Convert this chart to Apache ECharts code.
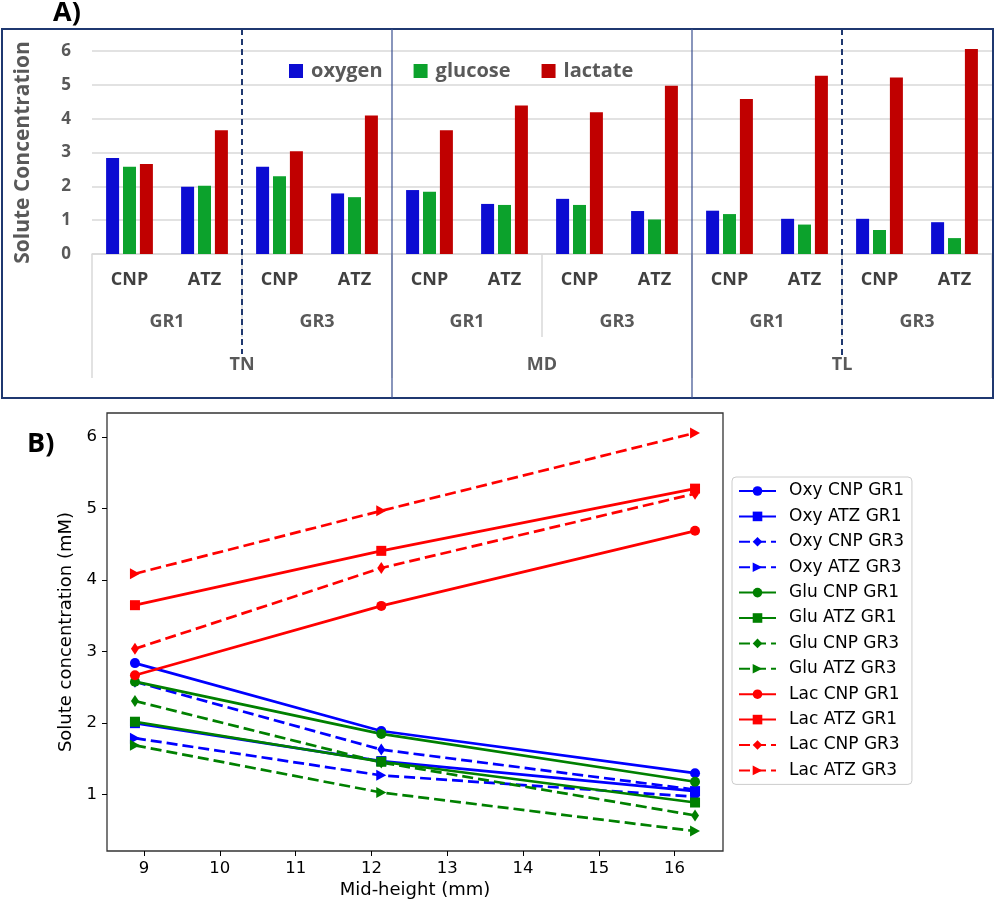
<!DOCTYPE html>
<html>
<head>
<meta charset="utf-8">
<script src="https://cdn.jsdelivr.net/npm/echarts@6/dist/echarts.min.js"></script>
<style>
html,body{margin:0;padding:0;background:#fff;}
#chart{width:996px;height:904px;}
</style>
</head>
<body>
<div id="chart"></div>
<script>
// ---------- Panel A data ----------
const barCategories = ['CNP','ATZ','CNP','ATZ','CNP','ATZ','CNP','ATZ','CNP','ATZ','CNP','ATZ'];
const groupLabels = ['GR1','GR3','GR1','GR3','GR1','GR3'];
const regionLabels = ['TN','MD','TL'];
const barOxygen  = [2.84, 1.99, 2.58, 1.79, 1.89, 1.48, 1.63, 1.27, 1.28, 1.04, 1.04, 0.94];
const barGlucose = [2.58, 2.02, 2.30, 1.68, 1.84, 1.45, 1.45, 1.02, 1.18, 0.87, 0.71, 0.47];
const barLactate = [2.66, 3.66, 3.04, 4.09, 3.66, 4.39, 4.19, 4.97, 4.58, 5.27, 5.22, 6.06];
const yTicksA = [0, 1, 2, 3, 4, 5, 6];

// ---------- Panel B data ----------
const midHeight = [8.88, 12.13, 16.27];
const lineNames = ['Oxy CNP GR1','Oxy ATZ GR1','Oxy CNP GR3','Oxy ATZ GR3',
                   'Glu CNP GR1','Glu ATZ GR1','Glu CNP GR3','Glu ATZ GR3',
                   'Lac CNP GR1','Lac ATZ GR1','Lac CNP GR3','Lac ATZ GR3'];
const oxyCnpGr1 = [2.84, 1.89, 1.30];
const oxyAtzGr1 = [2.00, 1.47, 1.05];
const oxyCnpGr3 = [2.58, 1.63, 1.07];
const oxyAtzGr3 = [1.79, 1.27, 0.97];
const gluCnpGr1 = [2.58, 1.85, 1.18];
const gluAtzGr1 = [2.02, 1.46, 0.89];
const gluCnpGr3 = [2.31, 1.45, 0.71];
const gluAtzGr3 = [1.69, 1.03, 0.49];
const lacCnpGr1 = [2.67, 3.64, 4.69];
const lacAtzGr1 = [3.65, 4.41, 5.28];
const lacCnpGr3 = [3.04, 4.17, 5.21];
const lacAtzGr3 = [4.09, 4.97, 6.06];
const xTicksB = [9, 10, 11, 12, 13, 14, 15, 16];
const yTicksB = [1, 2, 3, 4, 5, 6];

const lineValues = [oxyCnpGr1, oxyAtzGr1, oxyCnpGr3, oxyAtzGr3,
                    gluCnpGr1, gluAtzGr1, gluCnpGr3, gluAtzGr3,
                    lacCnpGr1, lacAtzGr1, lacCnpGr3, lacAtzGr3];

// styles
const lineColors = ['#0000FF','#0000FF','#0000FF','#0000FF','#008000','#008000','#008000','#008000','#FF0000','#FF0000','#FF0000','#FF0000'];
const TRI = 'path://M0,0L10,5L0,10Z';
const markerDefs = [
  {symbol:'circle', size:10, dash:false},
  {symbol:'rect', size:10, dash:false},
  {symbol:'diamond', size:[8,12], dash:true},
  {symbol:TRI, size:[10,11], dash:true}
];

// matplotlib-like 5% margins computed from data
const allY = lineValues.flat();
const yMinD = Math.min(...allY), yMaxD = Math.max(...allY);
const xMinD = Math.min(...midHeight), xMaxD = Math.max(...midHeight);
const yPad = (yMaxD - yMinD) * 0.05, xPad = (xMaxD - xMinD) * 0.05;

const fontA = 'Open Sans';
const grayA = '#595959';
const fontB = 'DejaVu Sans';

const chart = echarts.init(document.getElementById('chart'), null, {renderer:'canvas'});

const lineSeries = lineNames.map((name, i) => {
  const m = markerDefs[i % 4];
  return {
    name: name,
    type: 'line',
    xAxisIndex: 3,
    yAxisIndex: 1,
    data: midHeight.map((x, k) => [x, lineValues[i][k]]),
    symbol: m.symbol,
    symbolSize: m.size,
    showAllSymbol: true,
    lineStyle: {color: lineColors[i], width: 2.7, type: m.dash ? [11, 5] : 'solid'},
    itemStyle: {color: lineColors[i]},
    emphasis: {disabled: true},
    z: 3
  };
});

const barCommon = {type: 'bar', xAxisIndex: 0, yAxisIndex: 0, barWidth: 13, barGap: '30%', clip: false};

const option = {
  animation: false,
  backgroundColor: '#fff',
  grid: [
    {left: 92, right: 4, top: 51, height: 203},
    {left: 107, right: 273, top: 413, bottom: 53, show: true, borderColor: '#333', borderWidth: 1.3, backgroundColor: 'transparent'}
  ],
  legend: [
    {
      data: ['oxygen','glucose','lactate'],
      left: 284, top: 56,
      itemWidth: 14, itemHeight: 14, itemGap: 31,
      icon: 'rect',
      textStyle: {fontFamily: fontA, fontWeight: 'bold', fontSize: 20, color: grayA, padding: [0,0,0,3]}
    },
    {
      data: lineNames,
      orient: 'vertical',
      left: 732, top: 477,
      padding: [5, 8, 5, 6],
      itemWidth: 37, itemHeight: 12, itemGap: 7.4,
      backgroundColor: '#fff',
      borderColor: '#CCCCCC', borderWidth: 1, borderRadius: 4,
      textStyle: {fontFamily: fontB, fontSize: 17, color: '#000', lineHeight: 18, padding: [0,0,0,8]}
    }
  ],
  xAxis: [
    {
      type: 'category', gridIndex: 0, data: barCategories,
      axisLine: {lineStyle: {color: '#D9D9D9', width: 1.5}},
      axisTick: {show: false},
      axisLabel: {interval: 0, margin: 17, fontFamily: fontA, fontWeight: 'bold', fontSize: 18, color: '#404040'}
    },
    {
      type: 'category', gridIndex: 0, data: groupLabels, position: 'bottom',
      axisLine: {show: false},
      axisTick: {show: true, length: 83, lineStyle: {color: '#D9D9D9', width: 1.5}},
      axisLabel: {interval: 0, margin: 59, fontFamily: fontA, fontWeight: 'bold', fontSize: 18, color: grayA}
    },
    {
      type: 'category', gridIndex: 0, data: regionLabels, position: 'bottom',
      axisLine: {show: false},
      axisTick: {show: true, length: 124, lineStyle: {color: '#D9D9D9', width: 1.5}},
      axisLabel: {interval: 0, margin: 102, fontFamily: fontA, fontWeight: 'bold', fontSize: 18, color: grayA}
    },
    {
      type: 'value', gridIndex: 1,
      min: +(xMinD - xPad).toFixed(3), max: +(xMaxD + xPad).toFixed(3),
      axisLine: {show: false},
      splitLine: {show: false},
      axisTick: {show: true, customValues: xTicksB, length: 5, lineStyle: {color: '#000', width: 1}},
      axisLabel: {customValues: xTicksB, margin: 9, fontFamily: fontB, fontSize: 16.5, color: '#000'},
      name: 'Mid-height (mm)', nameLocation: 'middle', nameGap: 30,
      nameTextStyle: {fontFamily: fontB, fontSize: 18, color: '#000'}
    }
  ],
  yAxis: [
    {
      type: 'value', gridIndex: 0, min: yTicksA[0], max: yTicksA[yTicksA.length - 1], interval: 1,
      axisLine: {show: false}, axisTick: {show: false},
      splitLine: {lineStyle: {color: '#D9D9D9', width: 1.5}},
      axisLabel: {margin: 21, fontFamily: fontA, fontWeight: 'bold', fontSize: 17, color: grayA},
      name: 'Solute Concentration', nameLocation: 'middle', nameGap: 58, nameMoveOverlap: false,
      nameTextStyle: {fontFamily: fontA, fontWeight: 'bold', fontSize: 21, color: grayA, padding: [0, 0, 0, 0]}
    },
    {
      type: 'value', gridIndex: 1,
      min: +(yMinD - yPad).toFixed(3), max: +(yMaxD + yPad).toFixed(3),
      axisLine: {show: false},
      splitLine: {show: false},
      axisTick: {show: true, customValues: yTicksB, length: 5, lineStyle: {color: '#000', width: 1}},
      axisLabel: {customValues: yTicksB, margin: 10, fontFamily: fontB, fontSize: 16.5, color: '#000'},
      name: 'Solute concentration (mM)', nameLocation: 'middle', nameGap: 30,
      nameTextStyle: {fontFamily: fontB, fontSize: 18, color: '#000'}
    }
  ],
  series: [
    Object.assign({name: 'oxygen', data: barOxygen, itemStyle: {color: '#0C0CD2'}}, barCommon),
    Object.assign({name: 'glucose', data: barGlucose, itemStyle: {color: '#0CA22C'}}, barCommon),
    Object.assign({name: 'lactate', data: barLactate, itemStyle: {color: '#C00000'}}, barCommon)
  ].concat(lineSeries)
};

chart.setOption(option);

// Decorative frame and section dividers for panel A, positioned from the category axis
const cx = i => chart.convertToPixel({xAxisIndex: 0}, i);
const bound = i => (cx(i) + cx(i + 1)) / 2;
const navy = '#1F3870';
const boxTop = 29, boxBottom = 398;
chart.setOption({
  graphic: [
    {type: 'rect', shape: {x: 2, y: boxTop, width: 991, height: boxBottom - boxTop}, style: {fill: 'none', stroke: navy, lineWidth: 2}, z: 10},
    {type: 'line', shape: {x1: bound(1), y1: boxTop, x2: bound(1), y2: 354}, style: {stroke: navy, lineWidth: 2, lineDash: [6, 4]}, z: 10},
    {type: 'line', shape: {x1: bound(3), y1: boxTop, x2: bound(3), y2: boxBottom}, style: {stroke: '#3A4F8F', lineWidth: 1.2}, z: 10},
    {type: 'line', shape: {x1: bound(7), y1: boxTop, x2: bound(7), y2: boxBottom}, style: {stroke: '#3A4F8F', lineWidth: 1.2}, z: 10},
    {type: 'line', shape: {x1: bound(9), y1: boxTop, x2: bound(9), y2: 358}, style: {stroke: navy, lineWidth: 2, lineDash: [6, 4]}, z: 10},
    {type: 'text', left: 53, top: 0, style: {text: 'A)', font: 'bold 27px "Open Sans"', fill: '#000'}, z: 10},
    {type: 'text', left: 27, top: 431, style: {text: 'B)', font: 'bold 27px "Open Sans"', fill: '#000'}, z: 10}
  ]
});
</script>
</body>
</html>
